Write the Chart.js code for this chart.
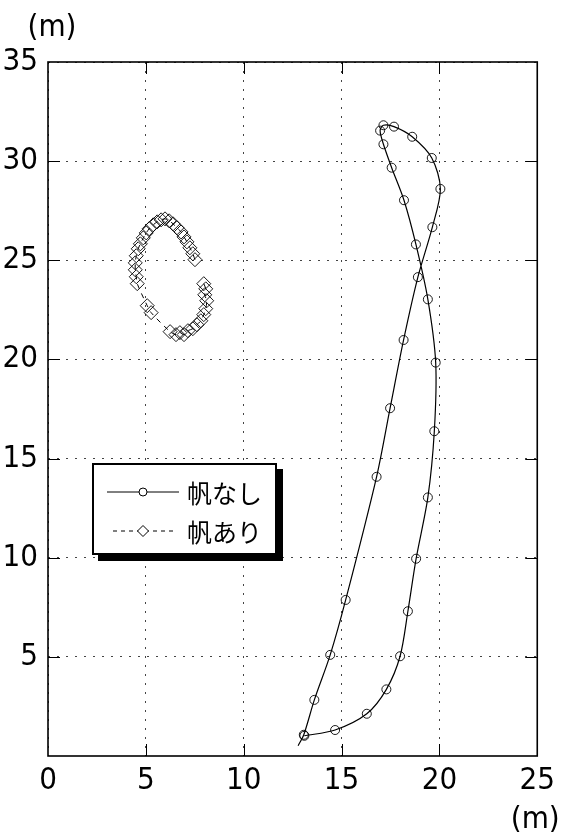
<!DOCTYPE html>
<html>
<head>
<meta charset="utf-8">
<script src="https://cdn.jsdelivr.net/npm/chart.js@4.4.0/dist/chart.umd.min.js"></script>
<style>
html, body { margin: 0; padding: 0; background: #fff; }
#wrap { position: relative; width: 561px; height: 838px; }
#legend {
    position: absolute; left: 92px; top: 463px; width: 181px; height: 88px;
    border: 2px solid #000; background: #fff; box-shadow: 6px 6px 0 #000;
    font-family: 'Noto Sans CJK JP', sans-serif; font-size: 25px; color: #000;
}
.row { position: absolute; left: 0; width: 181px; height: 30px; }
.row svg { position: absolute; left: 13px; top: 9px; }
.row span { position: absolute; left: 93px; top: 0; line-height: 30px; }
</style>
</head>
<body>
<div id="wrap">
    <canvas id="trackChart" width="561" height="838"></canvas>
    <div id="legend">
        <div class="row" style="top:12px">
            <svg width="72" height="12"><line x1="0" y1="6" x2="72" y2="6" stroke="#000" stroke-width="1"/><circle cx="36" cy="6" r="4" fill="#fff" stroke="#000" stroke-width="1"/></svg>
            <span>帆なし</span>
        </div>
        <div class="row" style="top:51px">
            <svg width="72" height="12"><line x1="6" y1="6" x2="66" y2="6" stroke="#000" stroke-width="1" stroke-dasharray="4 4"/><polygon points="36,0.5 41.5,6 36,11.5 30.5,6" fill="#fff" stroke="#000" stroke-width="1"/></svg>
            <span>帆あり</span>
        </div>
    </div>
</div>
<script>
// 帆なし (without sail)
const noSailX = [12.78, 13.07, 13.61, 14.42, 15.21, 16.79, 17.48, 18.17, 18.90, 19.64, 20.05, 19.61,
    18.61, 17.68, 17.14, 16.97, 17.14, 17.56, 18.19, 18.80, 19.41, 19.81, 19.74, 19.41, 18.81,
    18.39, 17.99, 17.29, 16.29, 14.67, 13.10];
const noSailY = [0.52, 1.07, 2.83, 5.10, 7.87, 14.08, 17.54, 20.98, 24.15, 26.67, 28.60, 30.16,
    31.23, 31.74, 31.81, 31.54, 30.85, 29.67, 28.03, 25.80, 23.03, 19.84, 16.38, 13.04, 9.95,
    7.30, 5.03, 3.36, 2.13, 1.31, 1.02];

// 帆あり (with sail)
const sailX = [7.96, 8.06, 8.01, 8.11, 8.06, 7.96, 7.81, 7.61, 7.40, 7.15, 6.95, 6.74, 6.54, 6.24,
    5.27, 5.07, 4.56, 4.51, 4.46, 4.46, 4.51, 4.61, 4.72, 4.87, 5.02, 5.17, 5.38, 5.58, 5.78,
    5.98, 6.19, 6.39, 6.59, 6.80, 6.95, 7.10, 7.25, 7.40, 7.51];
const sailY = [23.82, 23.56, 23.26, 22.96, 22.56, 22.26, 21.95, 21.75, 21.55, 21.45, 21.25, 21.35,
    21.25, 21.40, 22.36, 22.71, 23.82, 24.17, 24.52, 24.87, 25.23, 25.58, 25.83, 26.13, 26.38,
    26.59, 26.79, 26.94, 27.04, 27.09, 26.99, 26.84, 26.64, 26.43, 26.18, 25.93, 25.63, 25.33, 25.03];

const xTicks = [0, 5, 10, 15, 20, 25];
const yTicks = [5, 10, 15, 20, 25, 30, 35];
const unitLabel = '(m)';

const numFont = "'Liberation Sans Narrow', 'DejaVu Sans Condensed', 'Liberation Sans', sans-serif";

function toPoints(xs, ys) {
    return xs.map((x, i) => ({ x: x, y: ys[i] }));
}

// frame, inward tick marks and unit labels
const framePlugin = {
    id: 'frame',
    afterDraw(chart) {
        const { ctx, chartArea: a, scales } = chart;
        const len = 12;
        ctx.save();
        ctx.strokeStyle = '#000';
        ctx.lineWidth = 1;
        ctx.beginPath();
        scales.x.ticks.forEach(t => {
            if (t.value <= scales.x.min || t.value >= scales.x.max) return;
            const px = Math.round(scales.x.getPixelForValue(t.value)) + 0.5;
            ctx.moveTo(px, a.bottom); ctx.lineTo(px, a.bottom - len);
            ctx.moveTo(px, a.top); ctx.lineTo(px, a.top + len);
        });
        scales.y.ticks.forEach(t => {
            if (t.value <= scales.y.min || t.value >= scales.y.max) return;
            const py = Math.round(scales.y.getPixelForValue(t.value)) + 0.5;
            ctx.moveTo(a.left, py); ctx.lineTo(a.left + len, py);
            ctx.moveTo(a.right, py); ctx.lineTo(a.right - len, py);
        });
        ctx.stroke();
        ctx.lineWidth = 1.6;
        ctx.strokeRect(a.left, a.top, a.right - a.left, a.bottom - a.top);

        ctx.fillStyle = '#000';
        ctx.font = '31px ' + numFont;
        ctx.textAlign = 'center';
        ctx.textBaseline = 'middle';
        ctx.fillText(unitLabel, a.left + 4, a.top - 34);
        ctx.fillText(unitLabel, a.right - 2, a.bottom + 64);
        ctx.restore();
    }
};

const ctx = document.getElementById('trackChart').getContext('2d');

const trackChart = new Chart(ctx, {
    type: 'scatter',
    data: {
        datasets: [{
            label: '帆なし',
            data: toPoints(noSailX, noSailY),
            showLine: true,
            borderColor: '#000',
            borderWidth: 1.2,
            tension: 0.3,
            pointStyle: 'circle',
            pointRadius: c => c.dataIndex === 0 ? 0 : 4.5,
            pointBorderColor: '#000',
            pointBorderWidth: 0.9,
            pointBackgroundColor: 'rgba(0,0,0,0)'
        }, {
            label: '帆あり',
            data: toPoints(sailX, sailY),
            showLine: true,
            borderColor: '#000',
            borderWidth: 1,
            borderDash: [5, 5],
            tension: 0.3,
            pointStyle: 'rectRot',
            pointRadius: 7,
            pointBorderColor: '#000',
            pointBorderWidth: 0.9,
            pointBackgroundColor: 'rgba(0,0,0,0)'
        }]
    },
    options: {
        responsive: false,
        animation: false,
        layout: { padding: { left: 0, right: 20, top: 62, bottom: 0 } },
        plugins: {
            legend: { display: false },
            tooltip: { enabled: false }
        },
        scales: {
            x: {
                type: 'linear',
                min: 0,
                max: 25,
                afterBuildTicks: s => { s.ticks = xTicks.map(v => ({ value: v })); },
                afterFit: s => { s.height = 82; },
                grid: { color: '#444', lineWidth: 1, drawTicks: false },
                border: { display: false, dash: [2, 7] },
                ticks: {
                    color: '#000',
                    padding: 6,
                    maxRotation: 0,
                    font: { family: numFont, size: 31 }
                }
            },
            y: {
                type: 'linear',
                min: 0,
                max: 35,
                afterBuildTicks: s => { s.ticks = yTicks.map(v => ({ value: v })); },
                afterFit: s => { s.width = 48; },
                grid: { color: '#444', lineWidth: 1, drawTicks: false },
                border: { display: false, dash: [2, 7] },
                ticks: {
                    color: '#000',
                    padding: 10,
                    font: { family: numFont, size: 31 }
                }
            }
        }
    },
    plugins: [framePlugin]
});
</script>
</body>
</html>
